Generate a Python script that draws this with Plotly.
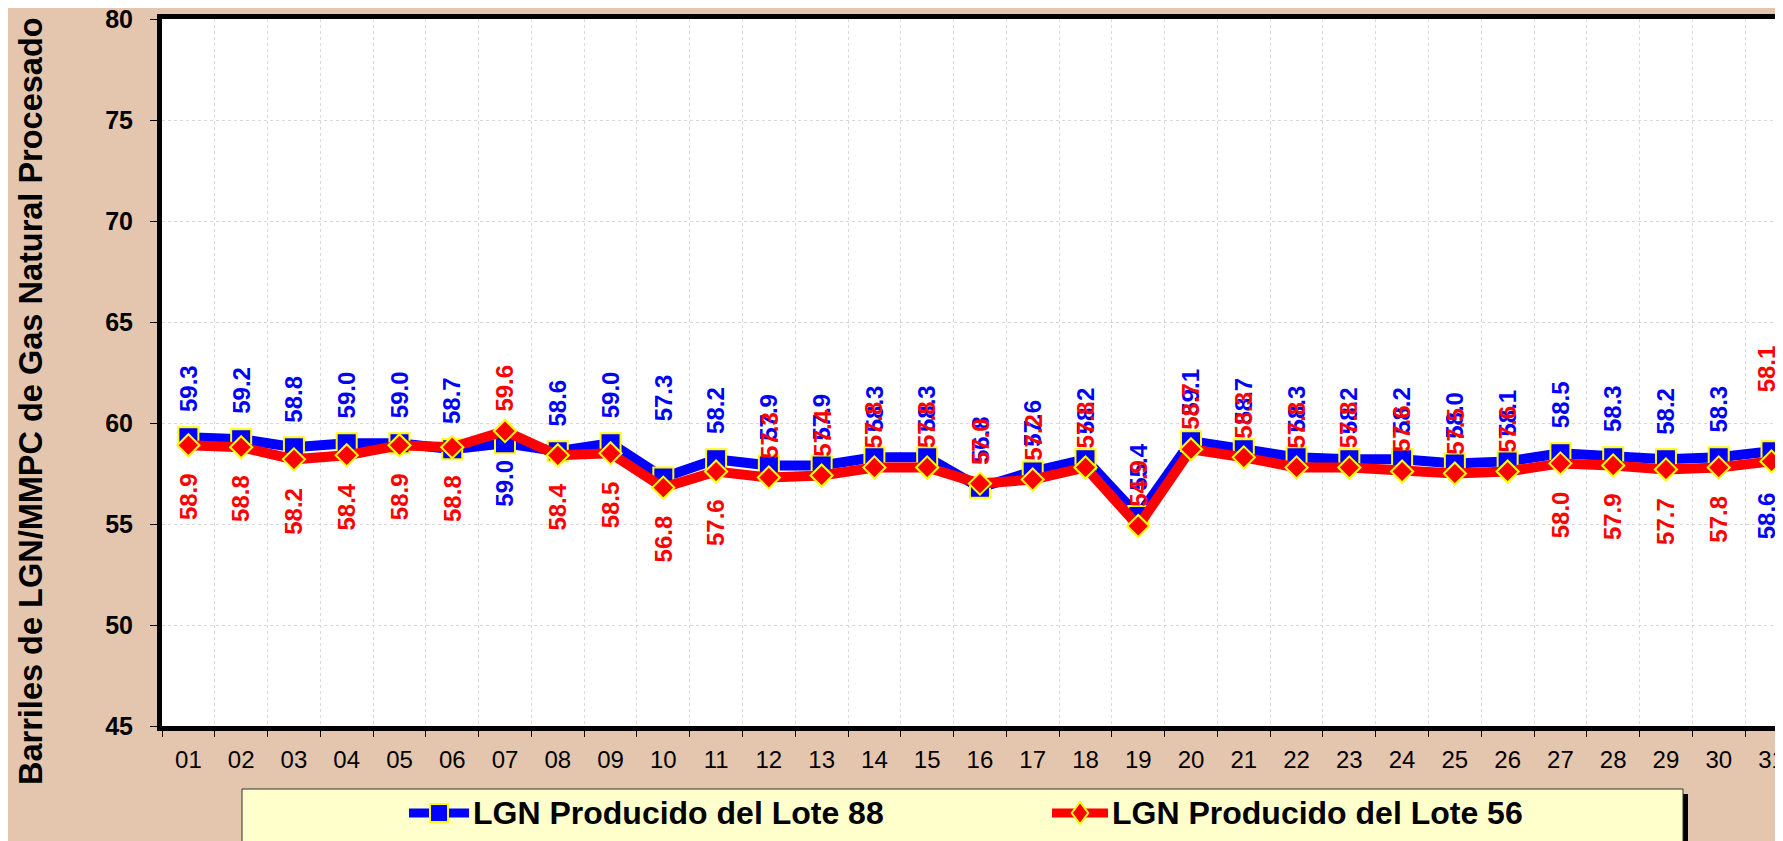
import plotly.graph_objects as go

# ---------------- data ----------------
days = ["01", "02", "03", "04", "05", "06", "07", "08", "09", "10", "11", "12", "13", "14", "15", "16",
        "17", "18", "19", "20", "21", "22", "23", "24", "25", "26", "27", "28", "29", "30", "31"]
lote88 = [59.3, 59.2, 58.8, 59.0, 59.0, 58.7, 59.0, 58.6, 59.0, 57.3, 58.2, 57.9, 57.9, 58.3, 58.3, 56.8,
          57.6, 58.2, 55.4, 59.1, 58.7, 58.3, 58.2, 58.2, 58.0, 58.1, 58.5, 58.3, 58.2, 58.3, 58.6]
lote56 = [58.9, 58.8, 58.2, 58.4, 58.9, 58.8, 59.6, 58.4, 58.5, 56.8, 57.6, 57.3, 57.4, 57.8, 57.8, 57.0,
          57.2, 57.8, 54.9, 58.7, 58.3, 57.8, 57.8, 57.6, 57.5, 57.6, 58.0, 57.9, 57.7, 57.8, 58.1]
name88 = "LGN Producido del Lote 88"
name56 = "LGN Producido del Lote 56"
y_title = "Barriles de LGN/MMPC de Gas Natural Procesado"
y_ticks = [45, 50, 55, 60, 65, 70, 75, 80]

# label placement (style): 'a' above, 'b' below
pos88 = ["a"] * 31
pos88[6] = "b"
pos88[30] = "b"
pos56 = ["b"] * 31
for i in [6] + list(range(11, 26)) + [30]:
    pos56[i] = "a"

# ---------------- layout geometry ----------------
OFF = 8  # page body margin offset
W, H = 1783, 841
L, T = 162 - OFF, 19 - OFF
PW, PH = 1783 - 162, 726 - 19
R = W - L - PW
B = H - T - PH
CAT_W = 52.77
x_end = -0.5 + PW / CAT_W

FONT = "Liberation Sans, Arial, sans-serif"
BLUE = "#0000FF"
RED = "#FF0000"
YEL = "#FFFF00"
BG = "#E4C6AF"


def px(x):  # page pixel -> paper x
    return (x - OFF - L) / PW


def py(y):  # page pixel -> paper y
    return (T + PH - (y - OFF)) / PH


fig = go.Figure()
fig.add_trace(go.Scatter(
    x=days, y=lote88, mode="lines+markers", name=name88,
    line=dict(color=BLUE, width=10),
    marker=dict(symbol="square", size=20, color=BLUE, line=dict(color=YEL, width=2)),
    showlegend=False, cliponaxis=False))
fig.add_trace(go.Scatter(
    x=days, y=lote56, mode="lines+markers", name=name56,
    line=dict(color=RED, width=10),
    marker=dict(symbol="diamond", size=17, color=RED, line=dict(color=YEL, width=2)),
    showlegend=False, cliponaxis=False))

# data labels (x as category index)
shift = {("88", "a"): 24, ("88", "b"): -16, ("56", "a"): 18, ("56", "b"): -27}
override = {("88", 9): 55, ("88", 30): -40, ("56", 30): 68}
xshift = {30: -5}
annots = []
for key, vals, poss, col in [("88", lote88, pos88, BLUE), ("56", lote56, pos56, RED)]:
    for i, (v, p) in enumerate(zip(vals, poss)):
        ys = override.get((key, i), shift[(key, p)])
        annots.append(dict(
            x=i, y=v, xref="x", yref="y", text="<b>%.1f</b>" % v, showarrow=False,
            textangle=-90, yanchor="bottom" if p == "a" else "top", xanchor="center",
            yshift=ys, xshift=xshift.get(i, 0), font=dict(family=FONT, size=24, color=col), borderpad=0))

# y-axis title
annots.append(dict(
    x=px(31), y=py(401), xref="paper", yref="paper", text="<b>" + y_title + "</b>",
    showarrow=False, textangle=-90, xanchor="center", yanchor="middle",
    font=dict(family=FONT, size=32.5, color="black")))

# custom legend
leg_y = 813
shapes = [
    dict(type="rect", xref="paper", yref="paper", x0=px(247), x1=px(1688), y0=py(794), y1=py(870),
         fillcolor="black", line=dict(width=0), layer="above"),
    dict(type="rect", xref="paper", yref="paper", x0=px(242), x1=px(1683), y0=py(789), y1=py(870),
         fillcolor="#FFFFCC", line=dict(color="#333333", width=1), layer="above"),
]
for (x0, x1, col, sym, name) in [(409, 469, BLUE, "square", name88), (1052, 1108, RED, "diamond", name56)]:
    shapes.append(dict(type="line", xref="paper", yref="paper", x0=px(x0), x1=px(x1), y0=py(leg_y), y1=py(leg_y),
                       line=dict(color=col, width=9), layer="above"))
    cx = (x0 + x1) / 2
    if sym == "square":
        shapes.append(dict(type="rect", xref="paper", yref="paper", x0=px(cx - 9), x1=px(cx + 9),
                           y0=py(leg_y + 9), y1=py(leg_y - 9), fillcolor=col,
                           line=dict(color=YEL, width=2), layer="above"))
    else:
        r = 11
        path = "M %f %f L %f %f L %f %f L %f %f Z" % (
            px(cx), py(leg_y - r), px(cx + r * 0.75), py(leg_y), px(cx), py(leg_y + r), px(cx - r * 0.75), py(leg_y))
        shapes.append(dict(type="path", xref="paper", yref="paper", path=path, fillcolor=col,
                           line=dict(color=YEL, width=2), layer="above"))
    annots.append(dict(x=px(x1 + 2), y=py(leg_y), xref="paper", yref="paper", text="<b>" + name + "</b>",
                       showarrow=False, xanchor="left", yanchor="middle",
                       font=dict(family=FONT, size=32, color="black")))

fig.update_layout(
    width=W, height=H, autosize=False,
    margin=dict(l=L, r=R, t=T, b=B, pad=0, autoexpand=False),
    paper_bgcolor=BG, plot_bgcolor="white",
    font=dict(family=FONT, color="black"),
    annotations=annots, shapes=shapes, showlegend=False,
    xaxis=dict(type="category", categoryorder="array", categoryarray=days, range=[-0.5, x_end],
               tickson="boundaries", ticks="outside", ticklen=6, tickcolor="black", tickwidth=1,
               showgrid=True, gridcolor="#D9D9D9", griddash="dot", gridwidth=1,
               showline=True, linecolor="black", linewidth=5, mirror=True,
               tickfont=dict(family=FONT, size=24, color="black"), ticklabelstandoff=8,
               ticklabeloverflow="allow", fixedrange=True),
    yaxis=dict(range=[45, 80], tickvals=y_ticks, ticks="outside", ticklen=7, tickcolor="black",
               showgrid=True, gridcolor="#D9D9D9", griddash="dot", gridwidth=1, zeroline=False,
               showline=True, linecolor="black", linewidth=5, mirror=False,
               tickfont=dict(family=FONT, size=25, color="black", weight="bold"), ticklabelstandoff=12,
               ticklabeloverflow="allow", fixedrange=True),
)

fig.write_html("out.html", config={"displayModeBar": False})
